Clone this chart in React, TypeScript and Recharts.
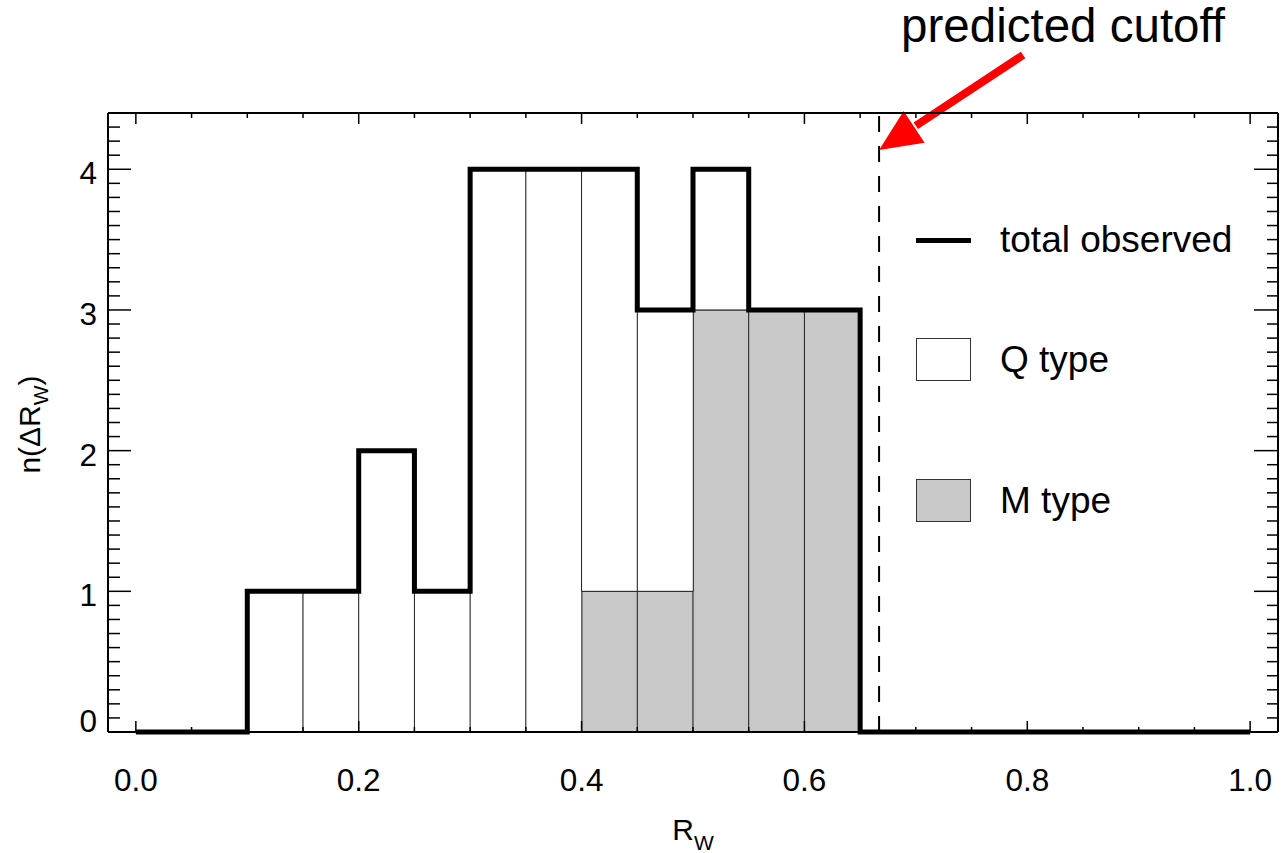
import React from "react";
import { ComposedChart, Bar, Line, XAxis, YAxis, ReferenceLine, Legend } from "recharts";

// histogram of R_w, bins 0.05 wide (left edges)
const binStarts = [0, 0.05, 0.1, 0.15, 0.2, 0.25, 0.3, 0.35, 0.4, 0.45, 0.5, 0.55, 0.6, 0.65, 0.7, 0.75, 0.8, 0.85, 0.9, 0.95];
const qType = [0, 0, 1, 1, 2, 1, 4, 4, 3, 2, 1, 0, 0, 0, 0, 0, 0, 0, 0, 0];
const mType = [0, 0, 0, 0, 0, 0, 0, 0, 1, 1, 3, 3, 3, 0, 0, 0, 0, 0, 0, 0];
const binWidth = 0.05;
const cutoff = 0.667;

const xLabels = [0, 0.2, 0.4, 0.6, 0.8, 1.0];
const yLabels = [0, 1, 2, 3, 4];
const xDomain = [-0.025, 1.025];
const yDomain = [0, 4.4];

// minor tick positions
const xTicks = Array.from({ length: 21 }, (_, i) => i / 20);
const yTicks = Array.from({ length: 45 }, (_, i) => i / 10);

const barData = binStarts.map((s, i) => ({ x: s + binWidth / 2, q: qType[i], m: mType[i] }));
const stepData = [
  ...binStarts.map((s, i) => ({ x: s, total: qType[i] + mType[i] })),
  { x: binStarts[binStarts.length - 1] + binWidth, total: qType[qType.length - 1] + mType[mType.length - 1] },
];

const font = "'Liberation Sans', Arial, Helvetica, sans-serif";

const isMajor = (v: number, majors: number[]) => majors.some((m) => Math.abs(m - v) < 1e-6);

const BottomTick = (props: any) => {
  const { x, y, payload } = props;
  const major = isMajor(payload.value, xLabels);
  return (
    <g>
      <line x1={x} y1={y} x2={x} y2={y - (major ? 11 : 5)} stroke="#000" strokeWidth={1.5} />
      {major && (
        <text x={x} y={y + 59} textAnchor="middle" fontSize={31.5} fontFamily={font} fill="#000">
          {payload.value.toFixed(1)}
        </text>
      )}
    </g>
  );
};

const TopTick = (props: any) => {
  const { x, y, payload } = props;
  const major = isMajor(payload.value, xLabels);
  return <line x1={x} y1={y} x2={x} y2={y + (major ? 11 : 5)} stroke="#000" strokeWidth={1.5} />;
};

const LeftTick = (props: any) => {
  const { x, y, payload } = props;
  const major = isMajor(payload.value, yLabels);
  return (
    <g>
      <line x1={x} y1={y} x2={x + (major ? 23 : 12)} y2={y} stroke="#000" strokeWidth={1.5} />
      {major && (
        <text x={x - 11} y={payload.value === 0 ? y : y + 15} textAnchor="end" fontSize={31.5} fontFamily={font} fill="#000">
          {payload.value}
        </text>
      )}
    </g>
  );
};

const RightTick = (props: any) => {
  const { x, y, payload } = props;
  const major = isMajor(payload.value, yLabels);
  return <line x1={x} y1={y} x2={x - (major ? 24 : 11)} y2={y} stroke="#000" strokeWidth={1.5} />;
};

const XTitle = (props: any) => {
  const vb = props.viewBox;
  return (
    <text x={vb.x + vb.width / 2} y={vb.y + 108} textAnchor="middle" fontSize={30} fontFamily={font} fill="#000">
      R
      <tspan fontSize={21} dy={10}>W</tspan>
    </text>
  );
};

const YTitle = (props: any) => {
  const vb = props.viewBox;
  const cx = vb.x - 8;
  const cy = vb.y + vb.height / 2 + 2;
  return (
    <text x={cx} y={cy} transform={`rotate(-90, ${cx}, ${cy})`} textAnchor="middle" fontSize={30} fontFamily={font} fill="#000">
      n(ΔR
      <tspan fontSize={21} dy={8}>W</tspan>
      <tspan dy={-8}>)</tspan>
    </text>
  );
};

const CutoffLabel = (props: any) => {
  const vb = props.viewBox;
  const tipX = vb.x;
  const tipY = vb.y + 37;
  const tailX = vb.x + 144;
  const tailY = vb.y - 58;
  const len = Math.hypot(tailX - tipX, tailY - tipY);
  const ux = (tailX - tipX) / len;
  const uy = (tailY - tipY) / len;
  const headLen = 42;
  const headHalf = 19;
  const bx = tipX + ux * headLen;
  const by = tipY + uy * headLen;
  const nx = -uy;
  const ny = ux;
  const pts = `${tipX},${tipY} ${bx + nx * headHalf},${by + ny * headHalf} ${bx - nx * headHalf},${by - ny * headHalf}`;
  return (
    <g>
      <line x1={bx + ux * 2} y1={by + uy * 2} x2={tailX} y2={tailY} stroke="#ff0000" strokeWidth={8} />
      <polygon points={pts} fill="#ff0000" />
      <text x={vb.x + 184} y={vb.y - 71} textAnchor="middle" fontSize={47.5} fontFamily={font} fill="#000">
        predicted cutoff
      </text>
    </g>
  );
};

const legendOrder = ["total", "q", "m"];
const legendTop: Record<string, number> = { total: 15, q: 134.5, m: 275.5 };

const renderLegend = (props: any) => {
  const items = [...(props.payload || [])].sort(
    (a: any, b: any) => legendOrder.indexOf(a.dataKey) - legendOrder.indexOf(b.dataKey)
  );
  return (
    <div style={{ position: "relative", width: 380, height: 340, fontFamily: font }}>
      {items.map((item: any) => (
        <div
          key={item.dataKey}
          style={{ position: "absolute", left: 16, top: legendTop[item.dataKey], height: 50, display: "flex", alignItems: "center" }}
        >
          {item.dataKey === "total" ? (
            <div style={{ width: 55, height: 0, borderTop: "5px solid #000" }} />
          ) : (
            <div
              style={{
                width: 55,
                height: 43,
                boxSizing: "border-box",
                border: "1px solid #333",
                background: item.dataKey === "m" ? "#c8c8c8" : "#fff",
              }}
            />
          )}
          <span style={{ marginLeft: 29, fontSize: 37, lineHeight: "50px", color: "#000", whiteSpace: "nowrap" }}>
            {item.value}
          </span>
        </div>
      ))}
    </div>
  );
};

export default function App() {
  return (
    <div style={{ position: "absolute", left: 0, top: 0, background: "#fff" }}>
      <ComposedChart
        width={1282}
        height={853}
        data={barData}
        margin={{ top: 111, right: 2, bottom: 61, left: 48 }}
        barCategoryGap={0}
        barGap={0}
      >
        <XAxis
          dataKey="x"
          type="number"
          domain={xDomain}
          ticks={xTicks}
          interval={0}
          height={60}
          axisLine={{ stroke: "#000", strokeWidth: 2 }}
          tickLine={false}
          tickSize={0}
          tickMargin={0}
          tick={<BottomTick />}
          label={XTitle}
        />
        <XAxis
          xAxisId="top"
          orientation="top"
          dataKey="x"
          type="number"
          domain={xDomain}
          ticks={xTicks}
          interval={0}
          height={2}
          axisLine={{ stroke: "#000", strokeWidth: 2 }}
          tickLine={false}
          tickSize={0}
          tickMargin={0}
          tick={<TopTick />}
        />
        <YAxis
          type="number"
          domain={yDomain}
          ticks={yTicks}
          interval={0}
          width={60}
          axisLine={{ stroke: "#000", strokeWidth: 2 }}
          tickLine={false}
          tickSize={0}
          tickMargin={0}
          tick={<LeftTick />}
          label={YTitle}
        />
        <YAxis
          yAxisId="right"
          orientation="right"
          type="number"
          domain={yDomain}
          ticks={yTicks}
          interval={0}
          width={2}
          axisLine={{ stroke: "#000", strokeWidth: 2 }}
          tickLine={false}
          tickSize={0}
          tickMargin={0}
          tick={<RightTick />}
        />
        <Bar dataKey="m" name="M type" stackId="h" fill="#c8c8c8" stroke="#222" strokeWidth={1} isAnimationActive={false} />
        <Bar dataKey="q" name="Q type" stackId="h" fill="#ffffff" stroke="#222" strokeWidth={1} isAnimationActive={false} />
        <ReferenceLine x={cutoff} stroke="#000" strokeWidth={2} strokeDasharray="16 14" label={CutoffLabel} />
        <Line
          data={stepData}
          xAxisId="top"
          yAxisId="right"
          dataKey="total"
          name="total observed"
          type="stepAfter"
          stroke="#000"
          strokeWidth={5}
          strokeLinejoin="miter"
          dot={false}
          activeDot={false}
          isAnimationActive={false}
        />
        <Legend
          layout="vertical"
          align="center"
          verticalAlign="middle"
          content={renderLegend}
          wrapperStyle={{ left: 900, top: 200, width: 380 }}
        />
      </ComposedChart>
    </div>
  );
}
